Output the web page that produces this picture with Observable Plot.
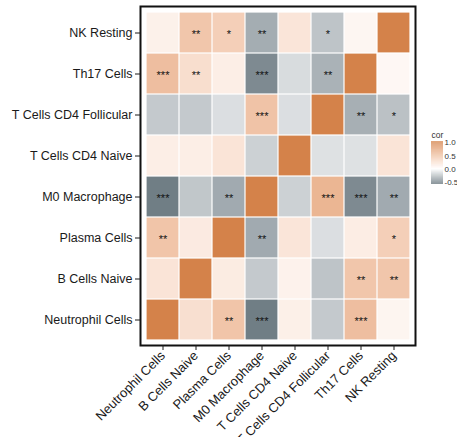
<!DOCTYPE html>
<html>
<head>
<meta charset="utf-8">
<script src="https://cdn.jsdelivr.net/npm/d3@7"></script>
<script src="https://cdn.jsdelivr.net/npm/@observablehq/plot@0.6"></script>
<style>
  body { margin: 0; background: #fff; }
  #wrap { position: relative; width: 457px; height: 437px; overflow: hidden; background: #fff; }
  #legend { position: absolute; left: 419px; top: 125px; }
  #main { position: absolute; left: 0; top: 0; }
</style>
</head>
<body>
<div id="wrap"><div id="main"></div><div id="legend"></div></div>
<script>
// Categories (left-to-right on x; bottom-to-top on y)
const cellTypes = ["Neutrophil Cells", "B Cells Naive", "Plasma Cells", "M0 Macrophage",
                   "T Cells CD4 Naive", "T Cells CD4 Follicular", "Th17 Cells", "NK Resting"];

// Correlation values per row (columns follow cellTypes order)
const corNeutrophil = [1.00, 0.25, 0.46, -0.50, 0.12, -0.20, 0.51, 0.08];
const corBNaive     = [0.21, 1.00, 0.15, -0.20, 0.10, -0.22, 0.45, 0.45];
const corPlasma     = [0.46, 0.16, 1.00, -0.32, 0.20, -0.12, 0.14, 0.38];
const corM0         = [-0.50, -0.21, -0.32, 1.00, -0.17, 0.58, -0.45, -0.32];
const corCD4Naive   = [0.13, 0.13, 0.21, -0.17, 1.00, -0.11, -0.11, 0.21];
const corCD4Foll    = [-0.20, -0.20, -0.12, 0.47, -0.12, 1.00, -0.30, -0.23];
const corTh17       = [0.51, 0.26, 0.13, -0.45, -0.13, -0.29, 1.00, 0.06];
const corNK         = [0.11, 0.45, 0.38, -0.31, 0.20, -0.22, 0.07, 1.00];

// Significance labels per row
const sigNeutrophil = ["", "", "**", "***", "", "", "***", ""];
const sigBNaive     = ["", "", "", "", "", "", "**", "**"];
const sigPlasma     = ["**", "", "", "**", "", "", "", "*"];
const sigM0         = ["***", "", "**", "", "", "***", "***", "**"];
const sigCD4Naive   = ["", "", "", "", "", "", "", ""];
const sigCD4Foll    = ["", "", "", "***", "", "", "**", "*"];
const sigTh17       = ["***", "**", "", "***", "", "**", "", ""];
const sigNK         = ["", "**", "*", "**", "", "*", "", ""];

// Legend tick labels
const legendTicks = [-0.5, 0, 0.5, 1.0];

const rowCor = [corNeutrophil, corBNaive, corPlasma, corM0, corCD4Naive, corCD4Foll, corTh17, corNK];
const rowSig = [sigNeutrophil, sigBNaive, sigPlasma, sigM0, sigCD4Naive, sigCD4Foll, sigTh17, sigNK];

const table = cellTypes.flatMap((rowName, r) =>
  cellTypes.map((colName, c) => ({x: colName, y: rowName, cor: rowCor[r][c], sig: rowSig[r][c]}))
);

const colorOpts = {
  type: "linear",
  domain: [-0.6, 0, 1],
  range: ["#56666f", "#ffffff", "#d4824a"],
  interpolate: "lab",
  clamp: true
};

const font = "'Liberation Sans', Arial, Helvetica, sans-serif";

const chart = Plot.plot({
  width: 457,
  height: 437,
  marginLeft: 140,
  marginRight: 42,
  marginTop: 6,
  marginBottom: 92,
  style: {fontFamily: font, fontSize: "12px", color: "#1a1a1a", background: "#fff"},
  x: {domain: cellTypes, paddingInner: 0, paddingOuter: 0.1, label: null},
  y: {domain: cellTypes.slice().reverse(), paddingInner: 0, paddingOuter: 0.1, label: null},
  color: colorOpts,
  marks: [
    Plot.cell(table, {x: "x", y: "y", fill: "cor", inset: 0.6}),
    Plot.text(table, {x: "x", y: "y", text: "sig", fontSize: 11, fill: "#111", dy: 1}),
    Plot.frame({stroke: "#111", strokeWidth: 2}),
    Plot.axisX({tickRotate: -45, tickSize: 5, tickPadding: 3, label: null, fontSize: 13}),
    Plot.axisY({tickSize: 5, tickPadding: 3, label: null, fontSize: 12.5})
  ]
});
document.getElementById("main").append(chart);

const lo = -0.57, hi = 1.05;
const legendSteps = d3.range(lo, hi, 0.01);
const legend = Plot.plot({
  width: 38,
  height: 70,
  marginLeft: 12,
  marginRight: 14,
  marginTop: 16,
  marginBottom: 11,
  style: {fontFamily: font, fontSize: "8px", color: "#333", background: "transparent", overflow: "visible"},
  x: {domain: [0, 1], axis: null},
  y: {domain: [lo, hi], axis: null},
  color: colorOpts,
  marks: [
    Plot.rect(legendSteps, {x1: 0, x2: 1, y1: d => d, y2: d => Math.min(hi, d + 0.011), fill: d => d}),
    Plot.axisY(legendTicks, {anchor: "right", tickSize: 0, tickPadding: 1, tickFormat: d => d.toFixed(1), label: null, fontSize: 8}),
    Plot.text(["cor"], {frameAnchor: "top-left", dy: -10, textAnchor: "start", fontSize: 8.5, fill: "#333"})
  ]
});
document.getElementById("legend").append(legend);
</script>
</body>
</html>
